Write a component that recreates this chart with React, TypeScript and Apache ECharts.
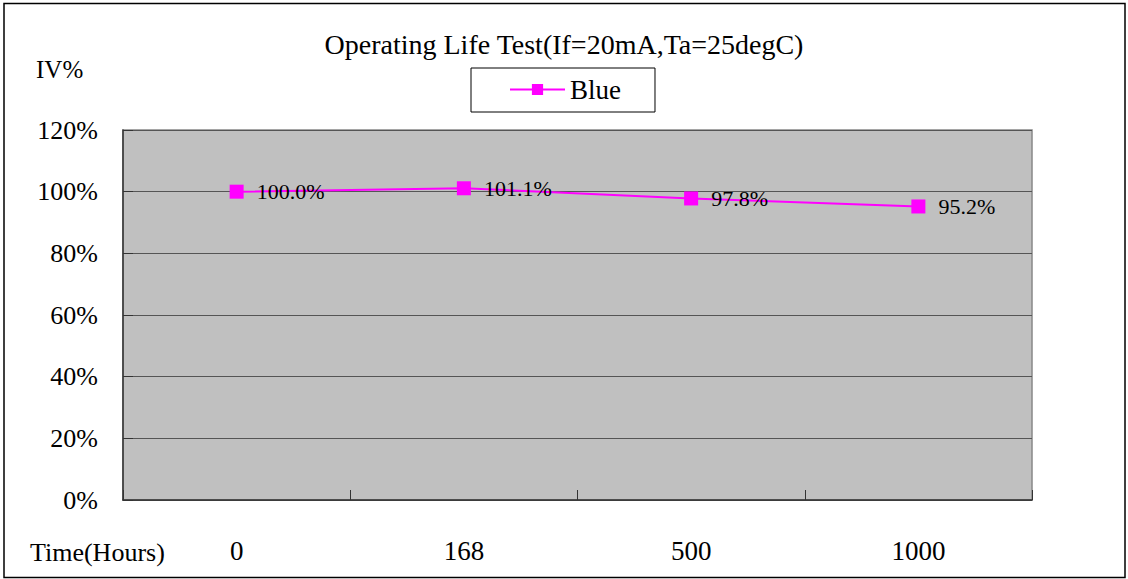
import React, { useEffect, useRef } from "react";
import * as echarts from "echarts";

const categories = ["0", "168", "500", "1000"];
const blueValues = [100.0, 101.1, 97.8, 95.2];
const yTicks = [0, 20, 40, 60, 80, 100, 120];

const FONT = "'Liberation Serif', 'Times New Roman', 'DejaVu Serif', serif";
const FS = 27;
const FS_LABEL = 22;

export default function App() {
  const ref = useRef<HTMLDivElement>(null);
  useEffect(() => {
    if (!ref.current) return;
    const chart = echarts.init(ref.current, undefined, { renderer: "svg" });
    chart.setOption({
      animation: false,
      backgroundColor: "#ffffff",
      textStyle: { fontFamily: FONT },
      title: {
        text: "Operating Life Test(If=20mA,Ta=25degC)",
        left: "center",
        top: 25,
        textStyle: { fontFamily: FONT, fontSize: 28, fontWeight: "normal", color: "#000" },
      },
      legend: {
        left: 471,
        top: 68,
        padding: [8, 34, 9, 38],
        borderColor: "#000",
        borderWidth: 1,
        itemWidth: 55,
        itemHeight: 14,
        itemGap: 10,
        textStyle: { fontFamily: FONT, fontSize: FS, color: "#000" },
        data: ["Blue"],
      },
      graphic: [
        {
          type: "rect",
          shape: { x: 4, y: 3.5, width: 1121, height: 574 },
          style: { fill: "none", stroke: "#000", lineWidth: 1.5 },
          silent: true,
        },
        {
          type: "text",
          x: 36,
          y: 69,
          style: { text: "IV%", fontFamily: FONT, fontSize: 25, fill: "#000", verticalAlign: "middle" },
        },
        {
          type: "text",
          x: 30,
          y: 552,
          style: { text: "Time(Hours)", fontFamily: FONT, fontSize: 26, fill: "#000", verticalAlign: "middle" },
        },
      ],
      grid: {
        left: 123,
        top: 130,
        right: 96,
        bottom: 79,
        show: true,
        backgroundColor: "#C0C0C0",
        borderColor: "#888888",
        borderWidth: 1.5,
      },
      xAxis: {
        type: "category",
        data: categories,
        boundaryGap: true,
        axisLine: { show: true, lineStyle: { color: "#333", width: 1.5 } },
        axisTick: { show: true, inside: true, length: 10, interval: 0, lineStyle: { color: "#333" } },
        axisLabel: { margin: 37, fontFamily: FONT, fontSize: FS, color: "#000" },
      },
      yAxis: {
        type: "value",
        min: yTicks[0],
        max: yTicks[yTicks.length - 1],
        interval: 20,
        axisLine: { show: true, lineStyle: { color: "#333", width: 1.5 } },
        axisTick: { show: true, inside: true, length: 10, lineStyle: { color: "#333" } },
        axisLabel: { margin: 25, fontFamily: FONT, fontSize: 26, color: "#000", formatter: "{value}%" },
        splitLine: { show: true, lineStyle: { color: "#555", width: 1.2 } },
      },
      series: [
        {
          name: "Blue",
          type: "line",
          data: blueValues,
          symbol: "rect",
          symbolSize: 14,
          lineStyle: { color: "#FF00FF", width: 2 },
          itemStyle: { color: "#FF00FF" },
          label: {
            show: true,
            position: "right",
            distance: 13,
            fontFamily: FONT,
            fontSize: FS_LABEL,
            color: "#000",
            formatter: (p: any) => p.value.toFixed(1) + "%",
          },
        },
      ],
    });
    return () => chart.dispose();
  }, []);
  return (
    <div
      ref={ref}
      style={{ position: "fixed", left: 0, top: 0, width: 1128, height: 579 }}
    />
  );
}
